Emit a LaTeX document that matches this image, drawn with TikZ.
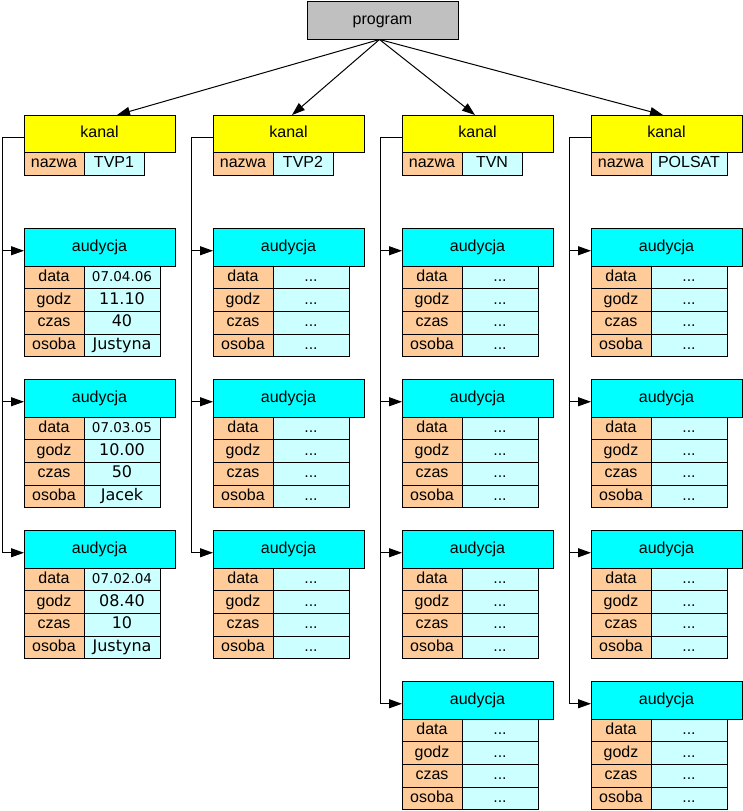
\documentclass[tikz,border=0pt]{standalone}
\usepackage{fontspec}
\setmainfont{Liberation Sans}
\newfontfamily\dvs{DejaVu Sans}
\usetikzlibrary{arrows.meta}
\definecolor{progc}{HTML}{C0C0C0}
\definecolor{kanc}{HTML}{FFFF00}
\definecolor{audc}{HTML}{00FFFF}
\definecolor{lblc}{HTML}{FFCC99}
\definecolor{valc}{HTML}{CCFFFF}
\newcommand\lab{\fontsize{16}{19}\selectfont}
\newcommand\valf{\dvs\fontsize{16}{19}\selectfont}
\newcommand\datef{\dvs\fontsize{13.5}{16}\selectfont}
\newcommand\dd{{\dvs\fontsize{14}{16}\selectfont ...}}
\tikzset{
  box/.style={draw, line width=1pt, anchor=north west, inner sep=0pt, outer sep=0pt,
    font=\lab, text height=11.5pt, text depth=3.5pt},
  progbox/.style={box, fill=progc, minimum width=151pt, minimum height=38pt},
  kanbox/.style={box, fill=kanc, minimum width=151pt, minimum height=37.5pt},
  audbox/.style={box, fill=audc, minimum width=151pt, minimum height=37.5pt},
  lblbox/.style={box, fill=lblc, minimum width=60pt, minimum height=22.7pt},
  valbox/.style={box, fill=valc, minimum width=76pt, minimum height=22.7pt, font=\valf},
  kvalbox/.style={box, fill=valc, minimum width=60pt, minimum height=22.7pt},
  arr/.style={line width=1pt, -{Triangle[length=13pt,width=9pt]}},
  bus/.style={line width=1pt},
}
\newcommand\audy[7]{%
  \node[audbox] (#1) at (#2,#3) {audycja};
  \node[lblbox] (#1-l1) at (#2,#3+37.5) {data};
  \node[valbox] (#1-v1) at (#2+60,#3+37.5) {#4};
  \node[lblbox] (#1-l2) at (#2,#3+60.2) {godz};
  \node[valbox] (#1-v2) at (#2+60,#3+60.2) {#5};
  \node[lblbox] (#1-l3) at (#2,#3+82.9) {czas};
  \node[valbox] (#1-v3) at (#2+60,#3+82.9) {#6};
  \node[lblbox] (#1-l4) at (#2,#3+105.6) {osoba};
  \node[valbox] (#1-v4) at (#2+60,#3+105.6) {#7};
}
\newcommand\kanal[4]{%
  \node[kanbox] (#1) at (#2,115) {kanal};
  \node[lblbox] (#1-l) at (#2,152.5) {nazwa};
  \node[kvalbox, minimum width=#4] (#1-v) at (#2+60,152.5) {#3};
}
\begin{document}
\begin{tikzpicture}[x=1pt,y=-1pt]
\useasboundingbox (0,0) rectangle (743,811);
\node[progbox] (prog) at (307,1.5) {program};
\kanal{k1}{24}{TVP1}{60pt}
\kanal{k2}{213}{TVP2}{60pt}
\kanal{k3}{402}{TVN}{60pt}
\kanal{k4}{591}{POLSAT}{76pt}
% column 1
\audy{a11}{24}{228.5}{{\datef 07.04.06}}{11.10}{40}{Justyna}
\audy{a12}{24}{379.5}{{\datef 07.03.05}}{10.00}{50}{Jacek}
\audy{a13}{24}{530.5}{{\datef 07.02.04}}{08.40}{10}{Justyna}
% column 2
\audy{a21}{213}{228.5}{\dd}{\dd}{\dd}{\dd}
\audy{a22}{213}{379.5}{\dd}{\dd}{\dd}{\dd}
\audy{a23}{213}{530.5}{\dd}{\dd}{\dd}{\dd}
% column 3
\audy{a31}{402}{228.5}{\dd}{\dd}{\dd}{\dd}
\audy{a32}{402}{379.5}{\dd}{\dd}{\dd}{\dd}
\audy{a33}{402}{530.5}{\dd}{\dd}{\dd}{\dd}
\audy{a34}{402}{681.5}{\dd}{\dd}{\dd}{\dd}
% column 4
\audy{a41}{591}{228.5}{\dd}{\dd}{\dd}{\dd}
\audy{a42}{591}{379.5}{\dd}{\dd}{\dd}{\dd}
\audy{a43}{591}{530.5}{\dd}{\dd}{\dd}{\dd}
\audy{a44}{591}{681.5}{\dd}{\dd}{\dd}{\dd}
% program to kanal
\draw[arr] ([xshift=-3pt]prog.south) -- ([xshift=17.5pt]k1.north);
\draw[arr] ([xshift=-3pt]prog.south) -- ([xshift=3.5pt]k2.north);
\draw[arr] ([xshift=-3pt]prog.south) -- ([xshift=-2.5pt]k3.north);
\draw[arr] ([xshift=-3pt]prog.south) -- ([xshift=-3.5pt]k4.north);
% buses
\draw[bus] ([yshift=-3.5pt]k1.west) -| ([xshift=-22pt,yshift=-3.5pt]a13.west);
\draw[bus] ([yshift=-3.5pt]k2.west) -| ([xshift=-22pt,yshift=-3.5pt]a23.west);
\draw[bus] ([yshift=-3.5pt]k3.west) -| ([xshift=-22pt,yshift=-3.5pt]a34.west);
\draw[bus] ([yshift=-3.5pt]k4.west) -| ([xshift=-22pt,yshift=-3.5pt]a44.west);
\foreach \a in {a11,a12,a13,a21,a22,a23,a31,a32,a33,a34,a41,a42,a43,a44}
  \draw[arr] ([xshift=-22pt,yshift=-3.5pt]\a.west) -- ([yshift=-3.5pt]\a.west);
\end{tikzpicture}
\end{document}
